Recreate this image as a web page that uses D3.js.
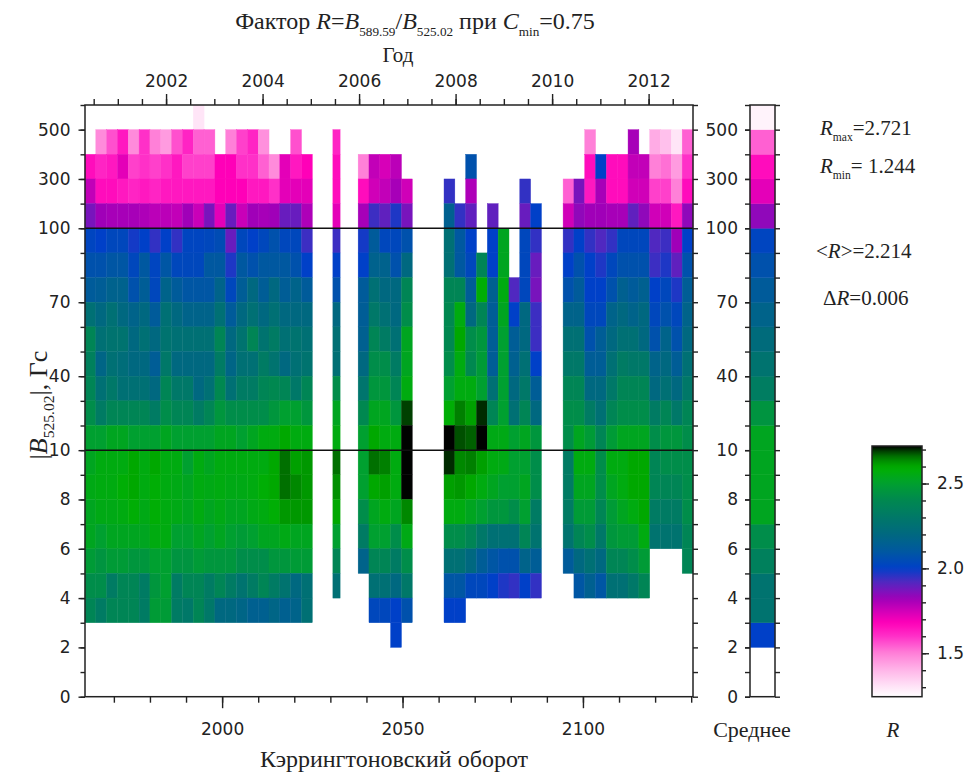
<!DOCTYPE html>
<html>
<head>
<meta charset="utf-8">
<script src="https://cdn.jsdelivr.net/npm/d3@7"></script>
<style>
body{margin:0;background:#fff;}
svg text{font-family:"DejaVu Sans",sans-serif;fill:#222;}
.serif{font-family:"Liberation Serif","Times New Roman",serif;}
.axis path,.axis line{stroke:#222;stroke-width:1.4;}
</style>
</head>
<body>
<svg id="chart" width="968" height="776"></svg>
<script>
// |B| bin edges (Гс); each row of the map is the interval between two edges
var binEdges = [0,1,2,3,4,5,6,7,8,9,10,20,30,40,50,60,70,80,90,100,200,300,400,500,600];
var binLabels = [0,2,4,6,8,10,40,70,100,300,500];

var crMinor = d3.range(1970,2131,10);
var crMajor = [2000,2050,2100];
var yearMinor = d3.range(2000.5,2012.6,0.5);
var yearMajor = [2002,2004,2006,2008,2010,2012];
var rTicks = [1.3,1.4,1.5,1.6,1.7,1.8,1.9,2.0,2.1,2.2,2.3,2.4,2.5,2.6,2.7];
var rMajor = [1.5,2.0,2.5];

// groups of Carrington rotation columns: first rotation, rotations per column, top row
var blockStart = [1962, 2030.7, 2037.7, 2061.5, 2094.5];
var blockStep  = [3, 2, 3, 3, 3];
var blockTop   = [23, 22, 21, 21, 22];

// R values, rows listed from the top row downwards, null = no data
var blockA = [
 [null,null,null,null,null,null,null,null,null,null,1.30,null,null,null,null,null,null,null,null,null,null],
 [null,1.48,1.56,1.64,1.48,1.60,1.50,1.45,1.56,1.62,1.54,1.54,null,1.50,1.58,1.62,1.47,null,null,1.56,null],
 [1.66,1.62,1.64,1.72,1.58,1.60,1.58,1.60,1.64,1.58,1.58,1.58,1.68,1.68,1.60,1.60,1.54,1.48,1.72,1.64,1.68],
 [1.77,1.66,1.66,1.64,1.62,1.64,1.62,1.64,1.64,1.64,1.64,1.64,1.68,1.68,1.68,1.64,1.64,1.60,1.72,1.72,1.72],
 [1.87,1.82,1.81,1.81,1.81,1.80,1.78,1.78,1.77,1.82,1.76,1.87,1.72,1.89,1.76,1.82,1.81,1.82,1.89,1.89,1.80],
 [2.02,2.00,2.03,2.03,1.98,2.00,1.95,2.00,1.95,2.02,2.02,2.03,2.05,1.89,2.03,2.00,2.03,2.07,2.03,2.03,1.94],
 [2.07,2.07,2.09,2.09,2.03,2.10,2.02,2.09,2.03,2.03,2.03,2.10,2.10,1.97,2.10,2.07,2.10,2.10,2.10,2.07,2.00],
 [2.12,2.13,2.16,2.16,2.07,2.13,2.03,2.17,2.12,2.09,2.09,2.09,2.17,2.03,2.13,2.20,2.13,2.20,2.13,2.17,2.12],
 [2.25,2.20,2.25,2.20,2.17,2.20,2.12,2.25,2.20,2.17,2.17,2.17,2.25,2.12,2.20,2.25,2.20,2.25,2.20,2.20,2.20],
 [2.38,2.25,2.27,2.27,2.20,2.25,2.20,2.27,2.25,2.25,2.25,2.25,2.38,2.20,2.27,2.38,2.27,2.32,2.25,2.27,2.25],
 [2.35,2.18,2.25,2.23,2.20,2.20,2.13,2.30,2.20,2.20,2.20,2.20,2.32,2.18,2.25,2.25,2.32,2.27,2.20,2.25,2.27],
 [2.38,2.25,2.30,2.25,2.25,2.25,2.20,2.38,2.30,2.30,2.20,2.25,2.40,2.25,2.32,2.32,2.38,2.40,2.38,2.30,2.38],
 [2.42,2.32,2.38,2.38,2.38,2.38,2.32,2.42,2.38,2.38,2.32,2.38,2.46,2.42,2.42,2.42,2.42,2.46,2.50,2.50,2.46],
 [2.50,2.50,2.53,2.53,2.50,2.50,2.50,2.53,2.50,2.50,2.50,2.50,2.53,2.53,2.50,2.53,2.56,2.56,2.60,2.56,2.56],
 [2.53,2.56,2.56,2.56,2.60,2.56,2.60,2.56,2.56,2.50,2.56,2.53,2.56,2.56,2.56,2.56,2.56,2.60,2.66,2.61,2.62],
 [2.55,2.56,2.56,2.58,2.60,2.56,2.58,2.56,2.55,2.53,2.56,2.55,2.56,2.55,2.55,2.56,2.58,2.60,2.66,2.64,2.62],
 [2.53,2.55,2.55,2.56,2.58,2.55,2.58,2.56,2.55,2.53,2.56,2.53,2.55,2.53,2.53,2.55,2.56,2.58,2.62,2.62,2.62],
 [2.53,2.50,2.53,2.53,2.53,2.53,2.56,2.56,2.50,2.50,2.53,2.50,2.53,2.50,2.48,2.50,2.53,2.53,2.55,2.53,2.53],
 [2.48,2.45,2.48,2.48,2.46,2.46,2.50,2.50,2.45,2.45,2.48,2.46,2.46,2.46,2.42,2.42,2.42,2.46,2.46,2.48,2.48],
 [2.42,2.42,2.32,2.38,2.38,2.32,2.46,2.50,2.32,2.38,2.38,2.32,2.38,2.32,2.27,2.32,2.38,2.32,2.27,2.20,2.25],
 [2.38,2.32,2.38,2.38,2.38,2.32,2.48,2.48,2.32,2.30,2.38,2.30,2.20,2.20,2.18,2.15,2.15,2.18,2.15,2.17,2.25]
];
var blockB = [[1.62],[1.66],[1.66],[1.72],[1.94],[2.00],[2.07],[2.20],[2.25],[2.25],[2.42],[2.53],[2.56],[2.66],[2.63],[2.60],[2.50],[2.38],[2.25]];
var blockC = [
 [1.50,1.77,1.74,1.78,null],
 [1.66,1.75,1.77,1.81,1.75],
 [1.81,1.94,1.90,1.97,1.87],
 [1.98,2.12,2.03,2.03,2.07],
 [2.00,2.16,2.16,2.07,2.20],
 [2.12,2.25,2.20,2.20,2.38],
 [2.13,2.30,2.25,2.20,2.42],
 [2.15,2.38,2.32,2.25,2.53],
 [2.20,2.42,2.42,2.32,2.53],
 [2.28,2.46,2.46,2.38,2.56],
 [2.40,2.53,2.53,2.46,2.69],
 [2.50,2.60,2.56,2.56,2.72],
 [2.50,2.66,2.65,2.56,2.72],
 [2.50,2.60,2.61,2.56,2.72],
 [2.42,2.53,2.56,2.53,2.64],
 [2.32,2.50,2.50,2.42,2.55],
 [2.17,2.38,2.38,2.32,2.42],
 [null,2.25,2.25,2.20,2.30],
 [null,2.03,2.03,2.00,2.07],
 [null,null,null,2.00,null]
];
var blockD = [
 [null,null,2.07,null,null,null,null,null,null],
 [1.95,null,1.80,null,null,null,null,1.95,null],
 [2.15,1.95,1.90,null,1.90,null,null,1.89,2.00],
 [2.25,2.10,2.00,null,2.00,2.53,null,2.03,1.95],
 [2.25,2.10,2.03,2.38,2.00,2.53,null,2.03,1.89],
 [2.38,2.38,2.13,2.58,2.15,2.56,1.92,2.03,1.87],
 [2.40,2.56,2.20,2.38,2.13,2.53,2.00,2.20,1.94],
 [2.40,2.60,2.42,2.46,2.13,2.50,2.13,2.20,1.94],
 [2.42,2.56,2.40,2.48,2.13,2.50,2.15,2.25,2.00],
 [2.50,2.56,2.56,2.50,2.25,2.50,2.20,2.30,2.13],
 [2.58,2.65,2.61,2.70,2.38,2.50,2.25,2.38,2.20],
 [2.72,2.68,2.67,2.72,2.55,2.55,2.50,2.53,2.46],
 [2.70,2.64,2.65,2.61,2.56,2.55,2.50,2.50,2.42],
 [2.61,2.62,2.60,2.56,2.53,2.50,2.50,2.53,2.42],
 [2.56,2.56,2.53,2.50,2.46,2.46,2.42,2.50,2.32],
 [2.42,2.42,2.38,2.30,2.25,2.25,2.25,2.38,2.27],
 [2.25,2.25,2.20,2.13,2.09,2.07,2.07,2.17,2.13],
 [2.09,2.09,2.03,2.03,2.00,1.97,1.95,2.00,1.95],
 [2.00,2.00,null,null,null,null,null,null,null]
];
var blockE = [
 [null,null,1.50,null,null,null,1.81,null,1.42,1.38,1.30,1.54],
 [null,null,1.66,2.00,1.66,1.66,1.77,1.77,1.50,1.52,1.45,1.60],
 [1.54,1.87,1.64,1.81,1.66,1.66,1.75,1.75,1.58,1.58,1.50,1.66],
 [1.75,1.84,1.82,1.82,1.81,1.81,1.90,1.84,1.75,1.75,1.64,1.84],
 [1.95,2.00,1.95,1.92,1.95,2.03,2.03,2.03,1.92,1.94,1.82,2.00],
 [2.00,2.07,2.00,1.97,2.03,2.07,2.07,2.07,1.94,1.97,1.90,2.07],
 [2.07,2.12,2.00,2.00,2.07,2.15,2.12,2.15,2.00,2.03,1.97,2.13],
 [2.17,2.17,2.03,2.03,2.17,2.20,2.17,2.20,2.03,2.07,2.03,2.17],
 [2.25,2.25,2.07,2.13,2.20,2.25,2.25,2.20,2.07,2.17,2.07,2.20],
 [2.30,2.30,2.13,2.13,2.25,2.32,2.30,2.30,2.17,2.20,2.13,2.25],
 [2.38,2.38,2.20,2.20,2.30,2.38,2.38,2.38,2.20,2.25,2.20,2.30],
 [2.42,2.42,2.32,2.25,2.38,2.42,2.42,2.42,2.32,2.38,2.30,2.38],
 [2.42,2.53,2.48,2.38,2.48,2.53,2.53,2.53,2.42,2.46,2.46,2.42],
 [2.32,2.56,2.56,2.42,2.56,2.56,2.60,2.60,2.38,2.42,2.42,2.42],
 [2.32,2.53,2.53,2.42,2.53,2.56,2.60,2.60,2.38,2.38,2.38,2.42],
 [2.32,2.48,2.48,2.38,2.48,2.53,2.56,2.60,2.32,2.32,2.32,2.42],
 [2.27,2.38,2.42,2.30,2.46,2.48,2.48,2.56,2.27,2.27,2.27,2.38],
 [2.12,2.20,2.25,2.20,2.38,2.38,2.42,2.48,null,null,null,2.38],
 [null,2.09,2.15,2.09,2.25,2.25,2.30,2.38,null,null,null,null]
];
var blocks = [blockA, blockB, blockC, blockD, blockE];

// column "Среднее", rows 2..23 from the bottom up
var meanRow0 = 2;
var meanValues = [2.00,2.27,2.27,2.35,2.42,2.53,2.53,2.53,2.53,2.45,2.33,2.27,2.22,2.17,2.12,2.07,2.02,1.84,1.72,1.66,1.54,1.27];

var rMin = 1.244, rMax = 2.721;
var stats = [["max","=2.721"],["min","= 1.244"]];

// colour table of the R scale
var colorR = [1.244,1.38,1.50,1.60,1.68,1.75,1.82,1.92,2.00,2.10,2.20,2.30,2.40,2.50,2.59,2.65,2.69,2.721];
var colorHex = ["#ffffff","#ffc0ec","#ff80d8","#ff30c8","#ff00b8","#d000b8","#a000b8","#5028c0","#0040c8","#0058a0","#006880","#007868","#008850","#00a030","#00b000","#008000","#004000","#000000"];

var svg = d3.select("#chart");

var pLeft = 85, pRight = 693, pTop = 105, pBottom = 696.7;
var x = d3.scaleLinear().domain([1962,2130.5]).range([pLeft,pRight]);
var year = d3.scaleLinear().domain([2000.32,2012.92]).range([pLeft,pRight]);
var y = d3.scaleLinear().domain([0,binEdges.length-1]).range([pBottom,pTop]);
var color = d3.scaleLinear().domain(colorR).range(colorHex).clamp(true);

// cells
var cells = [];
blocks.forEach(function(m,b){
    m.forEach(function(row,i){
	row.forEach(function(v,j){
	    if(v==null) return;
	    cells.push({x0:blockStart[b]+j*blockStep[b], x1:blockStart[b]+(j+1)*blockStep[b], row:blockTop[b]-i, r:v});
	});
    });
});

svg.append("g").selectAll("rect")
    .data(cells)
    .enter()
    .append("rect")
    .attr("x",function(d){ return x(d.x0); })
    .attr("width",function(d){ return x(d.x1)-x(d.x0); })
    .attr("y",function(d){ return y(d.row+1); })
    .attr("height",function(d){ return y(d.row)-y(d.row+1); })
    .attr("fill",function(d){ return color(d.r); })
    .attr("stroke",function(d){ return color(d.r); })
    .attr("stroke-width",0.4);

// lines at 10 and 100
[10,100].forEach(function(v){
    var k = binEdges.indexOf(v);
    svg.append("line").attr("x1",pLeft).attr("x2",pRight).attr("y1",y(k)).attr("y2",y(k))
	.attr("stroke","#111").attr("stroke-width",1.5);
});

var idx = d3.range(binEdges.length);
var labelIdx = binLabels.map(function(v){ return binEdges.indexOf(v); });
var fmtBin = function(i){ return binEdges[i]; };

// left axis
svg.append("g").attr("class","axis").attr("transform","translate("+pLeft+",0)")
    .call(d3.axisLeft(y).tickValues(idx).tickSize(4.5).tickSizeOuter(0).tickFormat(""));
svg.append("g").attr("class","axis").attr("transform","translate("+pLeft+",0)")
    .call(d3.axisLeft(y).tickValues(labelIdx).tickSize(6.5).tickPadding(8).tickSizeOuter(0).tickFormat(fmtBin))
    .selectAll("text").attr("font-size",17);
// right axis of the map
svg.append("g").attr("class","axis").attr("transform","translate("+pRight+",0)")
    .call(d3.axisRight(y).tickValues(idx).tickSize(5).tickSizeOuter(0).tickFormat(""));

// bottom axis
svg.append("g").attr("class","axis").attr("transform","translate(0,"+pBottom+")")
    .call(d3.axisBottom(x).tickValues(crMinor).tickSize(6).tickSizeOuter(0).tickFormat(""));
svg.append("g").attr("class","axis").attr("transform","translate(0,"+pBottom+")")
    .call(d3.axisBottom(x).tickValues(crMajor).tickSize(11.5).tickPadding(15).tickSizeOuter(0).tickFormat(d3.format("d")))
    .selectAll("text").attr("font-size",17);

// top axis (years)
svg.append("g").attr("class","axis").attr("transform","translate(0,"+pTop+")")
    .call(d3.axisTop(year).tickValues(yearMinor).tickSize(6).tickSizeOuter(0).tickFormat(""));
svg.append("g").attr("class","axis").attr("transform","translate(0,"+pTop+")")
    .call(d3.axisTop(year).tickValues(yearMajor).tickSize(11).tickPadding(7).tickSizeOuter(0).tickFormat(d3.format("d")))
    .selectAll("text").attr("font-size",17);

svg.selectAll(".axis .domain").remove();
svg.append("rect").attr("x",pLeft).attr("y",pTop).attr("width",pRight-pLeft).attr("height",pBottom-pTop)
    .attr("fill","none").attr("stroke","#222").attr("stroke-width",1.5);

// mean column
var mx0 = 750, mx1 = 775;
svg.append("g").selectAll("rect")
    .data(meanValues)
    .enter()
    .append("rect")
    .attr("x",mx0)
    .attr("width",mx1-mx0)
    .attr("y",function(d,i){ return y(meanRow0+i+1); })
    .attr("height",function(d,i){ return y(meanRow0+i)-y(meanRow0+i+1); })
    .attr("fill",function(d){ return color(d); })
    .attr("stroke",function(d){ return color(d); })
    .attr("stroke-width",0.4);
svg.append("g").attr("class","axis").attr("transform","translate("+mx0+",0)")
    .call(d3.axisLeft(y).tickValues(idx).tickSize(5).tickSizeOuter(0).tickFormat(""));
svg.append("g").attr("class","axis").attr("transform","translate("+mx0+",0)")
    .call(d3.axisLeft(y).tickValues(labelIdx).tickSize(5).tickPadding(7).tickSizeOuter(0).tickFormat(fmtBin))
    .selectAll("text").attr("font-size",17);
svg.append("g").attr("class","axis").attr("transform","translate("+mx1+",0)")
    .call(d3.axisRight(y).tickValues(idx).tickSize(5).tickSizeOuter(0).tickFormat(""));
svg.selectAll(".axis .domain").remove();
svg.append("rect").attr("x",mx0).attr("y",pTop).attr("width",mx1-mx0).attr("height",pBottom-pTop)
    .attr("fill","none").attr("stroke","#222").attr("stroke-width",1.5);

// colour bar
var cb0 = 872, cb1 = 922, cbTop = 446;
var rScale = d3.scaleLinear().domain([rMin,rMax]).range([pBottom,cbTop]);
var grad = svg.append("defs").append("linearGradient").attr("id","rgrad")
    .attr("x1",0).attr("y1",1).attr("x2",0).attr("y2",0);
grad.selectAll("stop")
    .data(d3.range(0,1.0001,0.02))
    .enter()
    .append("stop")
    .attr("offset",function(t){ return t; })
    .attr("stop-color",function(t){ return color(rMin+t*(rMax-rMin)); });
svg.append("rect").attr("x",cb0).attr("y",cbTop).attr("width",cb1-cb0).attr("height",pBottom-cbTop)
    .attr("fill","url(#rgrad)").attr("stroke","#222").attr("stroke-width",1.5);
svg.append("g").attr("class","axis").attr("transform","translate("+cb1+",0)")
    .call(d3.axisRight(rScale).tickValues(rTicks).tickSize(4).tickSizeOuter(0).tickFormat(""));
svg.append("g").attr("class","axis").attr("transform","translate("+cb1+",0)")
    .call(d3.axisRight(rScale).tickValues(rMajor).tickSize(7).tickPadding(8).tickSizeOuter(0).tickFormat(d3.format(".1f")))
    .selectAll("text").attr("font-size",17);
svg.selectAll(".axis .domain").remove();

// rich text helper: parts of [text, "i" italic | "s" subscript | "is"]
function rich(xp, yp, size, parts, anchor, subScale){
    var t = svg.append("text").attr("class","serif").attr("x",xp).attr("y",yp)
	.attr("font-size",size).attr("text-anchor",anchor||"start");
    var shift = 0;
    parts.forEach(function(p){
	var s = t.append("tspan").text(p[0]);
	var sub = p[1] && p[1].indexOf("s")>=0;
	if(p[1] && p[1].indexOf("i")>=0) s.attr("font-style","italic");
	var want = sub ? size*0.28 : 0;
	if(want!=shift){ s.attr("dy",want-shift); shift = want; }
	if(sub) s.attr("font-size",size*(subScale||0.55));
    });
    return t;
}

rich(415,29,24,[["Фактор "],["R","i"],["="],["B","i"],["589.59","s"],["/"],["B","i"],["525.02","s"],[" при "],["C","i"],["min","s"],["=0.75"]],"middle");
rich(398,62,21,[["Год"]],"middle");
rich(394,767,24,[["Кэррингтоновский оборот"]],"middle");
rich(752,737,22,[["Среднее"]],"middle");
rich(893,737,21,[["R","i"]],"middle");

rich(0,0,26,[["|"],["B","i"],["525.02","s"],["|, Гс"]],"middle",0.6)
    .attr("transform","translate(47,405) rotate(-90)");

rich(820,135,21,[["R","i"],[stats[0][0],"s"],[stats[0][1]]]);
rich(820,173,21,[["R","i"],[stats[1][0],"s"],[stats[1][1]]]);
rich(816,258,21,[["<"],["R","i"],[">=2.214"]]);
rich(823,305,21,[["Δ"],["R","i"],["=0.006"]]);
</script>
</body>
</html>
